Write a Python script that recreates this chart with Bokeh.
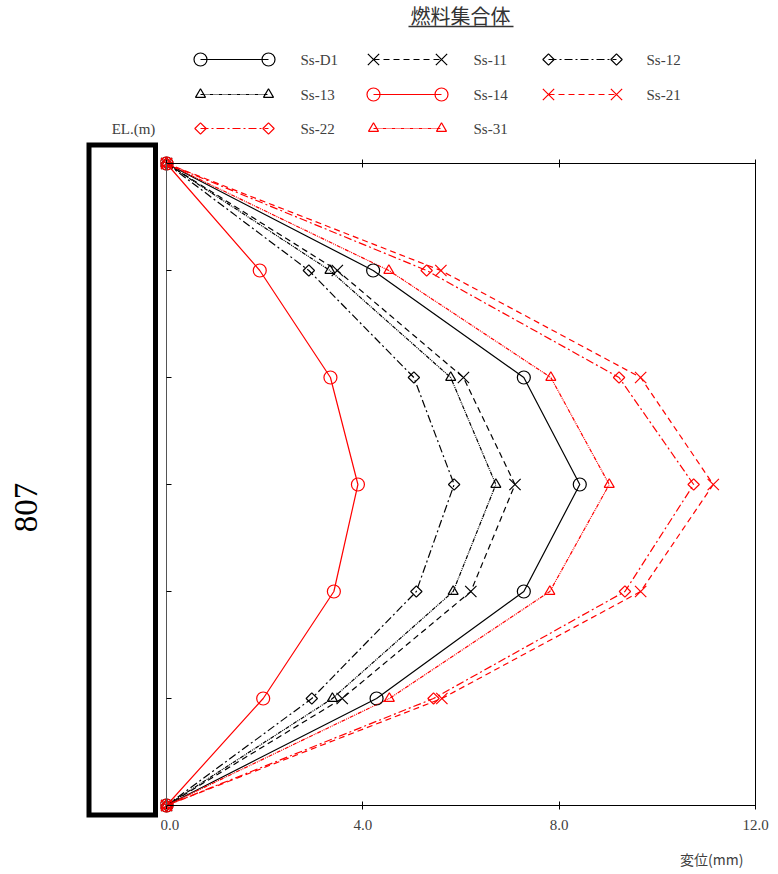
import math
from bokeh.plotting import figure
from bokeh.layouts import column, row
from bokeh.models import Range1d, LinearAxis, FixedTicker, NumeralTickFormatter, CustomJSTickFormatter
from bokeh.core.properties import value
from bokeh.embed import file_html
from bokeh.resources import INLINE

# ---------------- data ----------------
levels = [6, 5, 4, 3, 2, 1, 0]          # node index (top node first)
ss_d1 = [0.0, 4.21, 7.28, 8.42, 7.28, 4.28, 0.0]
ss_11 = [0.0, 3.48, 6.05, 7.10, 6.20, 3.58, 0.0]
ss_12 = [0.0, 2.90, 5.04, 5.86, 5.09, 2.96, 0.0]
ss_13 = [0.0, 3.33, 5.79, 6.71, 5.84, 3.38, 0.0]
ss_14 = [0.0, 1.90, 3.34, 3.90, 3.41, 1.97, 0.0]
ss_21 = [0.0, 5.59, 9.66, 11.14, 9.66, 5.61, 0.0]
ss_22 = [0.0, 5.30, 9.22, 10.74, 9.34, 5.44, 0.0]
ss_31 = [0.0, 4.53, 7.83, 9.02, 7.81, 4.54, 0.0]
series_names = ["Ss-D1", "Ss-11", "Ss-12", "Ss-13", "Ss-14", "Ss-21", "Ss-22", "Ss-31"]
series_values = [ss_d1, ss_11, ss_12, ss_13, ss_14, ss_21, ss_22, ss_31]
x_ticks = [0, 4, 8, 12]
x_min, x_max = 0, 12
title_text = "燃料集合体"
x_label = "変位(mm)"
y_label = "EL.(m)"
side_text = "807"

# ---------------- styles ----------------
RED = "#ff0000"
styles = {
    "Ss-D1": dict(color="black", dash="solid", marker="circle", size=13, angle=0.0),
    "Ss-11": dict(color="black", dash="6 4", marker="x", size=16, angle=0.0),
    "Ss-12": dict(color="black", dash="8 3 2 3", marker="square", size=8, angle=math.pi / 4),
    "Ss-13": dict(color="black", dash="4 1 1 1 1 1", marker="triangle", size=10, angle=0.0),
    "Ss-14": dict(color=RED, dash="solid", marker="circle", size=13, angle=0.0),
    "Ss-21": dict(color=RED, dash="6 4", marker="x", size=16, angle=0.0),
    "Ss-22": dict(color=RED, dash="8 3 2 3", marker="square", size=8, angle=math.pi / 4),
    "Ss-31": dict(color=RED, dash="4 1 1 1 1 1", marker="triangle", size=10, angle=0.0),
}
TXT = "#404040"
LW = 1.2


def blank_fig(w, h):
    f = figure(width=w, height=h, x_range=Range1d(0, w), y_range=Range1d(h, 0),
               toolbar_location=None, output_backend="svg",
               x_axis_location=None, y_axis_location=None, min_border=0)
    f.outline_line_color = None
    f.background_fill_color = "white"
    f.border_fill_color = "white"
    f.xgrid.visible = False
    f.ygrid.visible = False
    return f


# ---------------- top: title + legend ----------------
top = blank_fig(778, 141)
top.text(x=[460], y=[15], text=[title_text], text_font=value("Noto Sans CJK JP"),
         text_font_size="20px", text_align="center", text_baseline="middle", text_color="#333333")
top.segment(x0=[408], x1=[513], y0=[26], y1=[26], line_color="#333333", line_width=1.5)

rows_y = [59, 94, 128]
cols_x = [(200, 268, 300), (373, 441, 473), (548, 616, 646)]
for i, name in enumerate(series_names):
    st = styles[name]
    ry = rows_y[i // 3]
    x0, x1, xl = cols_x[i % 3]
    top.line([x0, x1], [ry, ry], line_color=st["color"], line_dash=st["dash"], line_width=LW)
    top.scatter([x0, x1], [ry, ry], marker=st["marker"], size=st["size"], angle=st["angle"],
                line_color=st["color"], fill_color=None, line_width=LW)
    top.text(x=[xl], y=[ry], text=[name], text_font=value("Liberation Serif"), text_font_size="15px",
             text_align="left", text_baseline="middle", text_color=TXT)
top.text(x=[133], y=[128], text=[y_label], text_font=value("Liberation Serif"), text_font_size="15px",
         text_align="center", text_baseline="middle", text_color=TXT)

# ---------------- left: frame box + rotated text ----------------
MID_H = 699
left = blank_fig(160, MID_H)
left.quad(left=[88.5], right=[155], top=[3.5], bottom=[673.5], fill_color=None,
          line_color="black", line_width=5, line_join="miter")
left.text(x=[25], y=[366], text=[side_text], angle=math.pi / 2, text_font=value("Liberation Serif"),
          text_font_size="33px", text_align="center", text_baseline="middle", text_color="black")

# ---------------- main plot (frame fills the canvas; axes drawn at fixed data locations) -------
MAIN_W = 618
pad_l, pad_r, pad_t, pad_b = 6, 23, 22, 35          # pixels around the data box
ppx = (MAIN_W - pad_l - pad_r) / (x_max - x_min)
ppy = (MID_H - pad_t - pad_b) / (max(levels) - min(levels))
p = figure(width=MAIN_W, height=MID_H,
           x_range=Range1d(x_min - pad_l / ppx, x_max + pad_r / ppx),
           y_range=Range1d(min(levels) - pad_b / ppy, max(levels) + pad_t / ppy),
           toolbar_location=None, output_backend="svg",
           x_axis_location=None, y_axis_location=None, min_border=0)
p.xgrid.visible = False
p.ygrid.visible = False
p.outline_line_color = None
p.background_fill_color = "white"
p.border_fill_color = "white"

empty = CustomJSTickFormatter(code="return ''")

xb = LinearAxis(ticker=FixedTicker(ticks=x_ticks), formatter=NumeralTickFormatter(format="0.0"),
                fixed_location=min(levels), bounds=(x_min, x_max))
xb.major_tick_in = 4
xb.major_tick_out = 4
xb.minor_tick_line_color = None
xb.major_label_standoff = 10
xb.major_label_text_font = "Liberation Serif"
xb.major_label_text_font_size = "15px"
xb.major_label_text_color = TXT
xb.axis_line_color = "black"
p.add_layout(xb, "below")

xa = LinearAxis(ticker=FixedTicker(ticks=x_ticks), formatter=empty,
                fixed_location=max(levels), bounds=(x_min, x_max))
xa.major_tick_in = 4
xa.major_tick_out = 4
xa.minor_tick_line_color = None
xa.major_label_standoff = 0
xa.major_label_text_font_size = "0px"
p.add_layout(xa, "above")

yl = LinearAxis(ticker=FixedTicker(ticks=levels[1:-1]), formatter=empty,
                fixed_location=x_min, bounds=(min(levels), max(levels)))
yl.major_tick_in = 5
yl.major_tick_out = 0
yl.minor_tick_line_color = None
yl.major_label_standoff = 0
yl.major_label_text_font_size = "0px"
yl.axis_line_color = "#555555"
p.add_layout(yl, "left")

yr = LinearAxis(ticker=FixedTicker(ticks=[]), formatter=empty,
                fixed_location=x_max, bounds=(min(levels), max(levels)))
yr.major_tick_line_color = None
yr.minor_tick_line_color = None
yr.major_label_text_font_size = "0px"
yr.axis_line_color = "black"
p.add_layout(yr, "right")

for name, vals in zip(series_names, series_values):
    st = styles[name]
    p.line(vals, levels, line_color=st["color"], line_dash=st["dash"], line_width=LW)
for name, vals in zip(series_names, series_values):
    st = styles[name]
    p.scatter(vals, levels, marker=st["marker"], size=st["size"], angle=st["angle"],
              line_color=st["color"], fill_color=None, line_width=LW)

# ---------------- bottom: x label ----------------
bottom = blank_fig(778, 34)
bottom.text(x=[743], y=[18], text=[x_label], text_font=value("Noto Sans CJK JP"), text_font_size="14px",
            text_align="right", text_baseline="middle", text_color=TXT)

layout = column(top, row(left, p), bottom)

open("out.html", "w").write(file_html(layout, INLINE))
